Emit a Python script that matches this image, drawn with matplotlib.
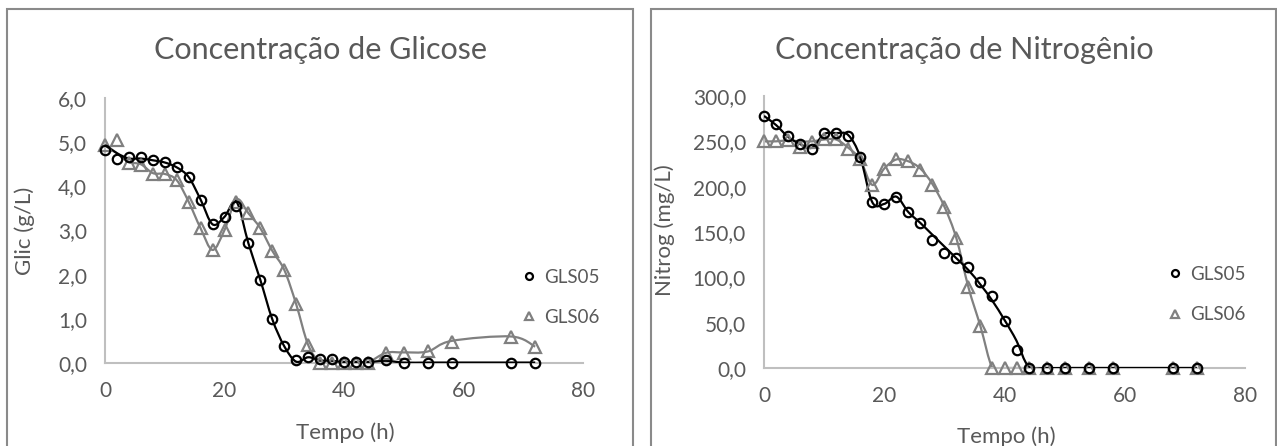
import numpy as np
import matplotlib
matplotlib.use("Agg")
import matplotlib.pyplot as plt
from matplotlib.path import Path
from matplotlib.patches import PathPatch, Rectangle
from matplotlib.lines import Line2D
from matplotlib.ticker import FuncFormatter, MultipleLocator

plt.rcParams['font.family'] = ['Lato', 'DejaVu Sans']

# tempos de coleta (h)
tempo = [0, 2, 4, 6, 8, 10, 12, 14, 16, 18, 20, 22, 24, 26, 28, 30, 32, 34, 36,
         38, 40, 42, 44, 47, 50, 54, 58, 68, 72]

# glicose (g/L) - pontos medidos
glic_gls05 = [4.82, 4.63, 4.67, 4.67, 4.59, 4.54, 4.43, 4.21, 3.70, 3.14, 3.31, 3.55,
              2.71, 1.88, 0.99, 0.38, 0.07, 0.13, 0.08, 0.08, 0.03, 0.03, 0.02, 0.07,
              0.01, 0.01, 0.01, 0.01, 0.01]
glic_gls06 = [4.93, 5.04, 4.52, 4.48, 4.28, 4.28, 4.14, 3.65, 3.05, 2.56, 3.01, 3.65,
              3.39, 3.05, 2.54, 2.11, 1.33, 0.41, 0.0, 0.0, 0.0, 0.0, 0.01, 0.23,
              0.22, 0.28, 0.48, 0.60, 0.37]
# glicose - curvas suavizadas
glic_gls05_curva = [4.93, 4.75, 4.63, 4.63, 4.59, 4.54, 4.43, 4.21, 3.70, 3.14, 3.31,
                    3.65, 2.71, 1.88, 0.99, 0.38, 0.03, 0.13, 0.06, 0.05, 0.02, 0.02,
                    0.02, 0.05, 0.01, 0.01, 0.01, 0.01, 0.01]
glic_gls06_curva = [4.95, 4.75, 4.55, 4.50, 4.30, 4.28, 4.14, 3.65, 3.05, 2.56, 3.01,
                    3.70, 3.39, 3.05, 2.54, 2.11, 1.33, 0.41, 0.02, 0.0, 0.0, 0.0,
                    0.01, 0.23, 0.24, 0.26, 0.50, 0.60, 0.37]

# nitrogenio (mg/L) - pontos medidos
nitrog_gls05 = [278, 269, 256, 247, 241, 259, 259, 256, 233, 183, 181, 189, 172, 160,
                141, 127, 121, 111, 95, 79, 52, 20, 0, 0, 0, 0, 0, 0, 0]
nitrog_gls06 = [250, 250, 252, 244, 249, 253, 253, 241, 230, 202, 220, 230, 228, 218,
                202, 178, 143, 89, 46, 0, 0, 0, 0, 0, 0, 0, 0, 0, 0]
# nitrogenio - curvas suavizadas
nitrog_gls05_curva = [278, 268, 255, 247, 243, 258, 259, 257, 233, 183, 181, 189, 172,
                      160, 147, 134, 121, 108, 92, 74, 53, 30, 2, 0, 0, 0, 0, 0, 0]
nitrog_gls06_curva = [250, 250, 251, 250, 250, 252, 252, 243, 230, 202, 220, 230, 228,
                      220, 203, 178, 143, 89, 46, 0, 0, 0, 0, 0, 0, 0, 0, 0, 0]

PRETO = '#000000'
CINZA = '#808080'
TEXTO = '#595959'
EIXO = '#BFBFBF'
FS = 15


# curva suavizada tipo Excel (bezier com tangentes de Catmull-Rom)
def smooth_path(x, y):
    x = np.asarray(x, float)
    y = np.asarray(y, float)
    n = len(x)
    verts = [(x[0], y[0])]
    codes = [Path.MOVETO]
    for i in range(n - 1):
        i0 = max(i - 1, 0)
        i3 = min(i + 2, n - 1)
        c1 = (x[i] + (x[i + 1] - x[i0]) / 6, y[i] + (y[i + 1] - y[i0]) / 6)
        c2 = (x[i + 1] - (x[i3] - x[i]) / 6, y[i + 1] - (y[i3] - y[i]) / 6)
        verts += [c1, c2, (x[i + 1], y[i + 1])]
        codes += [Path.CURVE4] * 3
    return Path(verts, codes)


def virgula(v, pos):
    return f"{v:.1f}".replace('.', ',')


def painel(ax, s05, s06, c05, c06, ymax, ystep, ylabel, ylab_xy, xlab_xy, leg_xy):
    ax.add_patch(PathPatch(smooth_path(tempo, c06), fill=False, ec=CINZA, lw=1.6, zorder=2))
    ax.add_patch(PathPatch(smooth_path(tempo, c05), fill=False, ec=PRETO, lw=1.6, zorder=3))
    ax.plot(tempo, s06, ls='none', marker='^', ms=8, mfc='none', mec=CINZA, mew=1.6,
            zorder=4, clip_on=False)
    ax.plot(tempo, s05, ls='none', marker='o', ms=6.8, mfc='none', mec=PRETO, mew=1.6,
            zorder=5, clip_on=False)

    ax.set_xlim(0, 80)
    ax.set_ylim(0, ymax)
    ax.xaxis.set_major_locator(MultipleLocator(20))
    ax.yaxis.set_major_locator(MultipleLocator(ystep))
    ax.yaxis.set_major_formatter(FuncFormatter(virgula))
    for s in ['top', 'right']:
        ax.spines[s].set_visible(False)
    for s in ['left', 'bottom']:
        ax.spines[s].set_color(EIXO)
        ax.spines[s].set_linewidth(1.5)
    ax.tick_params(axis='both', length=0, colors=TEXTO, labelsize=FS)
    ax.tick_params(axis='y', pad=13)
    ax.tick_params(axis='x', pad=13)

    ax.set_ylabel(ylabel, fontsize=16, color=TEXTO)
    ax.yaxis.set_label_coords(*ylab_xy)
    ax.set_xlabel('Tempo (h)', fontsize=16, color=TEXTO)
    ax.xaxis.set_label_coords(*xlab_xy)

    handles = [Line2D([], [], ls='none', marker='o', ms=5, mfc='none', mec=PRETO, mew=1.6),
               Line2D([], [], ls='none', marker='^', ms=6, mfc='none', mec=CINZA, mew=1.6)]
    leg = ax.legend(handles, ['GLS05', 'GLS06'], loc='center left', bbox_to_anchor=leg_xy,
                    frameon=False, fontsize=13.5, labelspacing=1.25, handlelength=0.6,
                    handletextpad=0.5, borderaxespad=0)
    for t in leg.get_texts():
        t.set_color(TEXTO)


fig = plt.figure(figsize=(12.77, 4.46), dpi=100)
W, H = 1277, 446

ax1 = fig.add_axes([105 / W, (H - 363) / H, 478 / W, 265 / H])
ax2 = fig.add_axes([764 / W, (H - 368) / H, 481 / W, 272 / H])

painel(ax1, glic_gls05, glic_gls06, glic_gls05_curva, glic_gls06_curva, 6, 1,
       'Glic (g/L)', (-0.146, 0.5), (0.502, -0.225), (0.86, 0.248))
painel(ax2, nitrog_gls05, nitrog_gls06, nitrog_gls05_curva, nitrog_gls06_curva, 300, 50,
       'Nitrog (mg/L)', (-0.185, 0.507), (0.503, -0.215), (0.828, 0.27))

# titulos centrados na area do grafico
fig.text(320 / W, 1 - 50 / H, 'Concentração de Glicose', ha='center', va='center',
         fontsize=22, color=TEXTO)
fig.text(964 / W, 1 - 50 / H, 'Concentração de Nitrogênio', ha='center', va='center',
         fontsize=22, color=TEXTO)

# molduras das areas do grafico
for x0, x1 in [(7, 633), (651, 1276)]:
    fig.patches.append(Rectangle((x0 / W, -0.1), (x1 - x0) / W, 1.1 - 9 / H,
                                 transform=fig.transFigure, fill=False,
                                 ec='#8A8A8A', lw=1.5))

fig.savefig('out.png', dpi=100)
